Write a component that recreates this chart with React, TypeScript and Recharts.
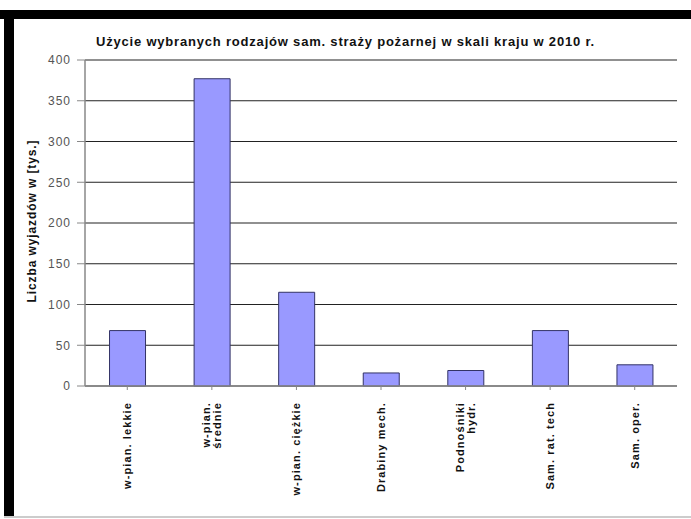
import { BarChart, Bar, XAxis, YAxis, CartesianGrid, Label } from 'recharts'

const categories = [
  'w-pian. lekkie',
  'w-pian.\nśrednie',
  'w-pian. ciężkie',
  'Drabiny mech.',
  'Podnośniki\nhydr.',
  'Sam. rat. tech',
  'Sam. oper.',
]
const wyjazdy = [68, 377, 115, 16, 19, 68, 26]
const yTicks = [0, 50, 100, 150, 200, 250, 300, 350, 400]

const data = categories.map((name, i) => ({ name, value: wyjazdy[i] }))

const font = 'Arial, "Liberation Sans", sans-serif'

function CategoryTick(props: any) {
  const { x, y, payload } = props
  const lines = String(payload.value).split('\n')
  const offset = -((lines.length - 1) * 1.05) / 2 + 0.35
  return (
    <g transform={`translate(${x},${y + 10})`}>
      <text
        transform="rotate(-90)"
        textAnchor="end"
        fontSize={11}
        fontWeight="bold"
        fontFamily={font}
        letterSpacing={1.1}
        fill="#111"
      >
        {lines.map((line, i) => (
          <tspan key={i} x={0} dy={i === 0 ? `${offset}em` : '1.05em'}>
            {line}
          </tspan>
        ))}
      </text>
    </g>
  )
}

export default function App() {
  return (
    <div style={{ position: 'absolute', left: 0, top: 0, width: 691, height: 519, background: '#fff', overflow: 'hidden' }}>
      <div style={{ position: 'absolute', left: 0, top: 10, width: 691, height: 9, background: '#000' }} />
      <div style={{ position: 'absolute', left: 4, top: 10, width: 10, height: 508, background: '#000' }} />
      <div style={{ position: 'absolute', left: 4, top: 516, width: 687, height: 2, background: '#ccc' }} />
      <div
        style={{
          position: 'absolute',
          left: 14,
          top: 34,
          width: 663,
          textAlign: 'center',
          fontFamily: font,
          fontWeight: 'bold',
          fontSize: 13,
          letterSpacing: 0.8,
          color: '#111',
        }}
      >
        Użycie wybranych rodzajów sam. straży pożarnej w skali kraju w 2010 r.
      </div>
      <div style={{ position: 'absolute', left: 0, top: 0 }}>
        <BarChart
          width={691}
          height={519}
          data={data}
          margin={{ top: 60, right: 14, bottom: 13, left: 30 }}
          barCategoryGap="29%"
        >
          <CartesianGrid vertical={false} stroke="#222" strokeWidth={1.2} />
          <XAxis
            dataKey="name"
            interval={0}
            height={120}
            tick={<CategoryTick />}
            tickLine={{ stroke: '#888' }}
            tickSize={4}
            axisLine={{ stroke: '#888', strokeWidth: 1.5 }}
          />
          <YAxis
            width={55}
            domain={[0, 400]}
            ticks={yTicks}
            interval={0}
            tick={{ fontSize: 12, fill: '#555', fontFamily: font, letterSpacing: 1 }}
            tickLine={{ stroke: '#888' }}
            tickSize={8}
            tickMargin={6}
            axisLine={{ stroke: '#888', strokeWidth: 1.5 }}
          >
            <Label
              value="Liczba wyjazdów w [tys.]"
              angle={-90}
              position="insideLeft"
              offset={2}
              dy={-2}
              style={{
                fontSize: 12,
                fontWeight: 'bold',
                fontFamily: font,
                letterSpacing: 0.9,
                fill: '#111',
                textAnchor: 'middle',
              }}
            />
          </YAxis>
          <Bar dataKey="value" fill="#9999ff" stroke="#333366" strokeWidth={1} isAnimationActive={false} />
        </BarChart>
      </div>
    </div>
  )
}
